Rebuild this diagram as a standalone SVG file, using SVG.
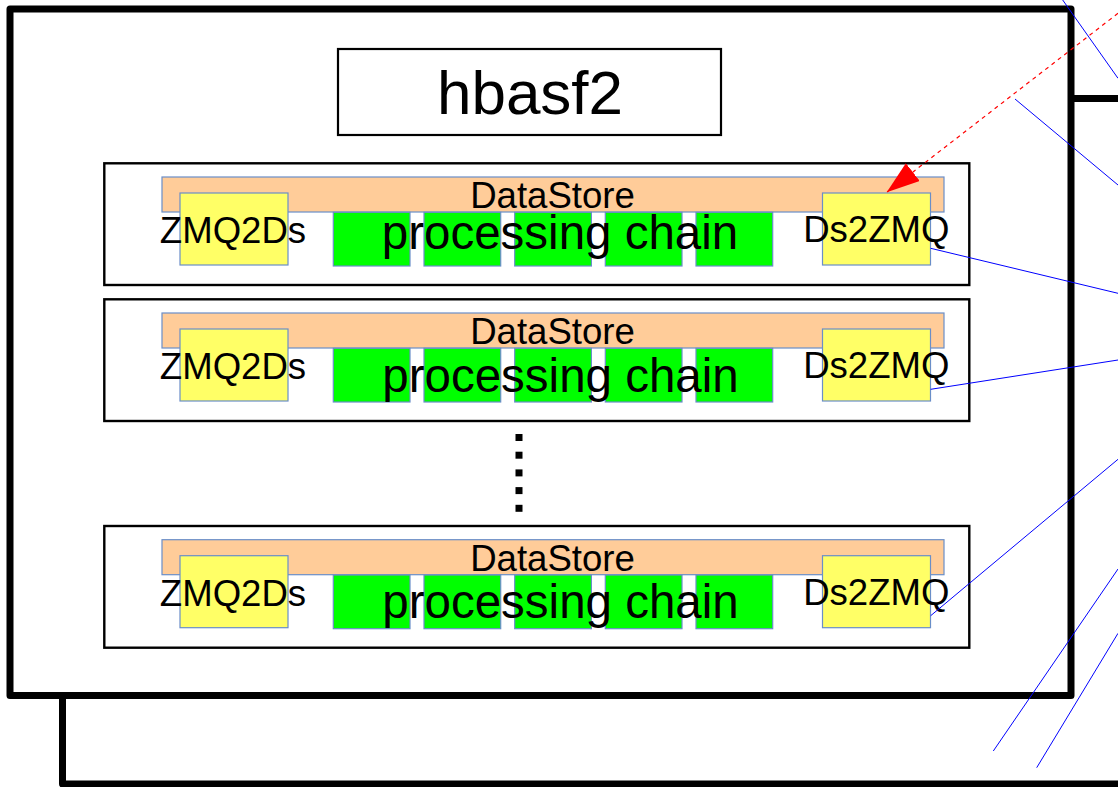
<svg xmlns="http://www.w3.org/2000/svg" width="1118" height="787" viewBox="0 0 1118 787">
  <style>
    .frame { fill: #ffffff; stroke: #000000; stroke-width: 7; stroke-linejoin: round; }
    .title { fill: #ffffff; stroke: #000000; stroke-width: 2.2; }
    .panel { fill: #ffffff; stroke: #000000; stroke-width: 2.4; }
    .store { fill: #ffcc99; stroke: #6a8ec8; stroke-width: 1.2; }
    .io { fill: #ffff66; stroke: #6a8ec8; stroke-width: 1.2; }
    .mod { fill: #00ff00; stroke: #6a8ec8; stroke-width: 1.2; }
    .dot { fill: #000000; }
    text { font-family: "Liberation Sans", Arial, sans-serif; fill: #000000; text-anchor: middle; }
    .t-title { font-size: 62px; }
    .t-mid { font-size: 36.6px; }
    .t-chain { font-size: 47.5px; }
    .link { fill: none; stroke: #0000ff; stroke-width: 1; }
    .flow { fill: none; stroke: #ff0000; stroke-width: 1.2; stroke-dasharray: 4 4; }
  </style>
  <defs>
    <marker id="arrowRed" markerUnits="userSpaceOnUse" markerWidth="34" markerHeight="24" refX="33" refY="11.3" orient="auto">
      <path d="M0,0 L33,11.3 L0,22.6 Z" fill="#ff0000"/>
    </marker>
  </defs>

  <!-- stacked process frames -->
  <g id="frame-back">
    <rect class="frame" x="62.5" y="98.5" width="1100" height="685.5"/>
  </g>
  <g id="frame-front">
    <rect class="frame" x="10" y="9" width="1061" height="686.5"/>
  </g>

  <g id="title">
    <rect class="title" x="338" y="49" width="383" height="86"/>
    <text class="t-title" x="530" y="114">hbasf2</text>
  </g>

  <!-- worker panel 1 -->
  <g id="worker-1">
    <rect class="panel" x="104.3" y="163.3" width="865" height="121.7"/>
    <rect class="store" x="162" y="177" width="782" height="35"/>
    <rect class="io" x="180" y="193" width="108" height="72"/>
    <rect class="io" x="822.5" y="193" width="108" height="72"/>
    <rect class="mod" x="333.3" y="212.3" width="76.7" height="53.7"/>
    <rect class="mod" x="424" y="212.3" width="76.7" height="53.7"/>
    <rect class="mod" x="514.7" y="212.3" width="76.7" height="53.7"/>
    <rect class="mod" x="605.3" y="212.3" width="76.7" height="53.7"/>
    <rect class="mod" x="696" y="212.3" width="76.7" height="53.7"/>
    <text class="t-mid" x="552.5" y="208.3">DataStore</text>
    <text class="t-mid" x="233" y="243.3">ZMQ2Ds</text>
    <text class="t-mid" x="876.3" y="242.3">Ds2ZMQ</text>
    <text class="t-chain" x="560" y="249.3">processing chain</text>
  </g>

  <!-- worker panel 2 -->
  <g id="worker-2" transform="translate(0,136)">
    <rect class="panel" x="104.3" y="163.3" width="865" height="121.7"/>
    <rect class="store" x="162" y="177" width="782" height="35"/>
    <rect class="io" x="180" y="193" width="108" height="72"/>
    <rect class="io" x="822.5" y="193" width="108" height="72"/>
    <rect class="mod" x="333.3" y="212.3" width="76.7" height="53.7"/>
    <rect class="mod" x="424" y="212.3" width="76.7" height="53.7"/>
    <rect class="mod" x="514.7" y="212.3" width="76.7" height="53.7"/>
    <rect class="mod" x="605.3" y="212.3" width="76.7" height="53.7"/>
    <rect class="mod" x="696" y="212.3" width="76.7" height="53.7"/>
    <text class="t-mid" x="552.5" y="208.3">DataStore</text>
    <text class="t-mid" x="233" y="243.3">ZMQ2Ds</text>
    <text class="t-mid" x="876.3" y="242.3">Ds2ZMQ</text>
    <text class="t-chain" x="560.5" y="255.6">processing chain</text>
  </g>

  <!-- ellipsis between panels -->
  <g id="ellipsis">
    <rect class="dot" x="515.5" y="434" width="7" height="7"/>
    <rect class="dot" x="515.5" y="451.7" width="7" height="7"/>
    <rect class="dot" x="515.5" y="469.4" width="7" height="7"/>
    <rect class="dot" x="515.5" y="487.1" width="7" height="7"/>
    <rect class="dot" x="515.5" y="504.8" width="7" height="7"/>
  </g>

  <!-- worker panel 3 -->
  <g id="worker-3" transform="translate(0,362.7)">
    <rect class="panel" x="104.3" y="163.3" width="865" height="121.7"/>
    <rect class="store" x="162" y="177" width="782" height="35"/>
    <rect class="io" x="180" y="193" width="108" height="72"/>
    <rect class="io" x="822.5" y="193" width="108" height="72"/>
    <rect class="mod" x="333.3" y="212.3" width="76.7" height="53.7"/>
    <rect class="mod" x="424" y="212.3" width="76.7" height="53.7"/>
    <rect class="mod" x="514.7" y="212.3" width="76.7" height="53.7"/>
    <rect class="mod" x="605.3" y="212.3" width="76.7" height="53.7"/>
    <rect class="mod" x="696" y="212.3" width="76.7" height="53.7"/>
    <text class="t-mid" x="552.5" y="208.3">DataStore</text>
    <text class="t-mid" x="233" y="243.3">ZMQ2Ds</text>
    <text class="t-mid" x="876.3" y="242.3">Ds2ZMQ</text>
    <text class="t-chain" x="560.5" y="255.6">processing chain</text>
  </g>

  <!-- connectors -->
  <g id="connectors">
    <line class="link" x1="1062.7" y1="0" x2="1118" y2="78.3"/>
    <line class="link" x1="1015" y1="99" x2="1118" y2="185"/>
    <line class="link" x1="930.7" y1="248.3" x2="1118" y2="293.3"/>
    <line class="link" x1="930.7" y1="389.3" x2="1118" y2="360"/>
    <line class="link" x1="930.7" y1="615.7" x2="1118" y2="459.3"/>
    <line class="link" x1="993.3" y1="751" x2="1118" y2="569"/>
    <line class="link" x1="1036.7" y1="767.7" x2="1118" y2="633.3"/>
    <line class="flow" x1="1118" y1="13.3" x2="886.7" y2="192.3" marker-end="url(#arrowRed)"/>
  </g>
</svg>
